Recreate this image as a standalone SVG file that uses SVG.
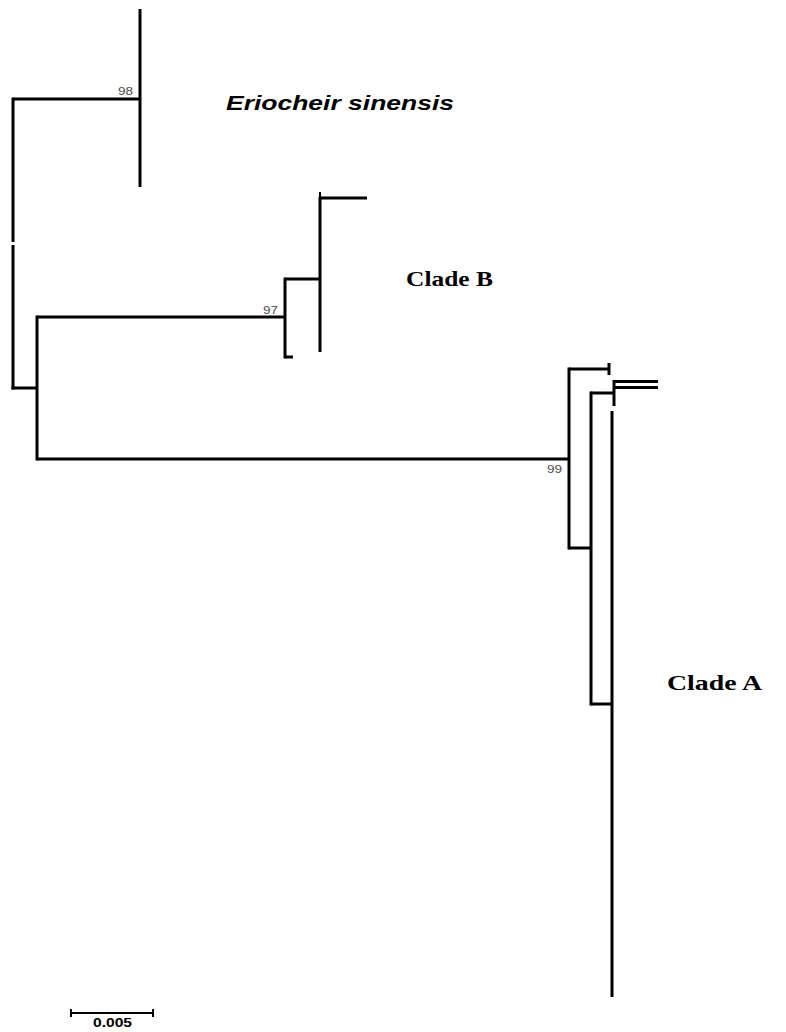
<svg xmlns="http://www.w3.org/2000/svg" width="786" height="1032" viewBox="0 0 786 1032">
<style>
.br{stroke:#000;stroke-width:3;fill:none;stroke-linecap:butt}
.bs{font-family:"Liberation Sans",Arial,sans-serif;font-size:11px;fill:#4a4a4a}
.clade{font-family:"Liberation Serif","Times New Roman",serif;font-weight:bold;font-size:21px;fill:#000}
.sp{font-family:"Liberation Sans",Arial,sans-serif;font-weight:bold;font-style:italic;font-size:21px;fill:#000}
.sc{font-family:"Liberation Sans",Arial,sans-serif;font-weight:bold;font-size:12px;fill:#000}
</style>
<rect width="786" height="1032" fill="#fff"/>
<g id="connectors">
<path class="br" d="M140,9V187"/>
<path class="br" d="M13,99H140"/>
<path class="br" d="M13,97.5V242M13,245V389.5"/>
<path class="br" d="M11.5,388H37"/>
<path class="br" d="M37,315.5V460.5"/>
<path class="br" d="M37,317H285"/>
<path class="br" d="M285,277.5V358.5"/>
<path class="br" d="M285,357H293"/>
<path class="br" d="M285,279H320"/>
<path class="br" d="M320,197V352"/>
<path class="br" style="stroke-width:2" d="M320,192V197"/>
<path class="br" d="M320,198H367"/>
<path class="br" d="M37,459H569"/>
<path class="br" d="M569,367.5V549.5"/>
<path class="br" d="M569,369H609"/>
<path class="br" d="M609,363V375"/>
<path class="br" d="M569,548H591"/>
<path class="br" d="M591,391.5V705.5"/>
<path class="br" d="M591,393H614"/>
<path class="br" d="M614,380V406"/>
<path class="br" d="M614,381.5H658"/>
<path class="br" d="M614,387.5H658"/>
<path class="br" d="M591,704H612"/>
<path class="br" d="M612,411V997"/>
</g>
<g id="node-98"><text class="bs" x="118" y="95" textLength="15" lengthAdjust="spacingAndGlyphs">98</text></g>
<g id="node-97"><text class="bs" x="263" y="314" textLength="15" lengthAdjust="spacingAndGlyphs">97</text></g>
<g id="node-99"><text class="bs" x="547" y="473" textLength="15" lengthAdjust="spacingAndGlyphs">99</text></g>
<g id="label-eriocheir"><text class="sp" x="226" y="110" textLength="228" lengthAdjust="spacingAndGlyphs">Eriocheir sinensis</text></g>
<g id="label-cladeB"><text class="clade" x="406" y="286" textLength="87" lengthAdjust="spacingAndGlyphs">Clade B</text></g>
<g id="label-cladeA"><text class="clade" x="667" y="690" textLength="95" lengthAdjust="spacingAndGlyphs">Clade A</text></g>
<g id="scale-bar">
<path class="br" style="stroke-width:2" d="M71,1013H153M71,1009V1017M153,1009V1017"/>
<text class="sc" x="93" y="1027" textLength="39" lengthAdjust="spacingAndGlyphs">0.005</text>
</g>
</svg>
